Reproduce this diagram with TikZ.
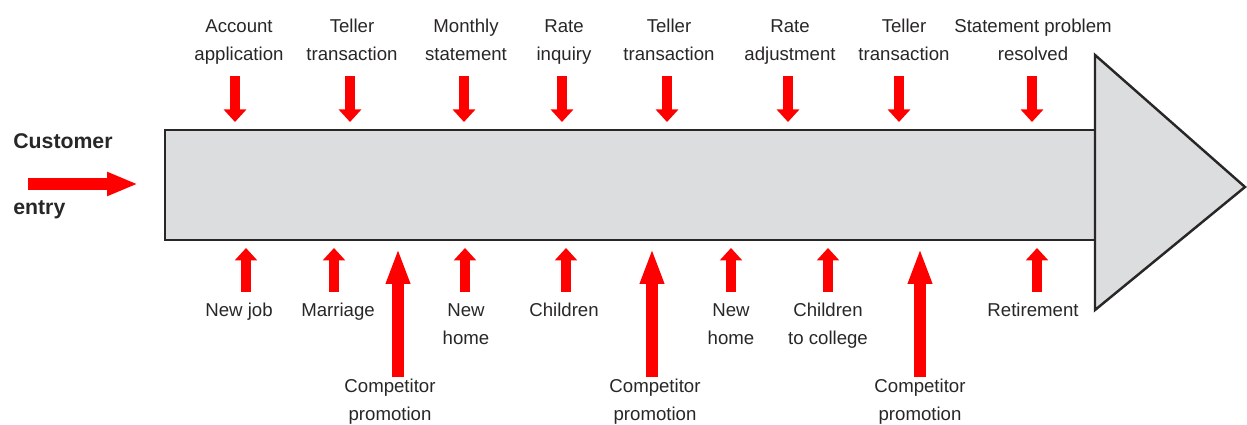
\documentclass[tikz,border=0pt]{standalone}
\usepackage{fontspec}
\setmainfont{Liberation Sans}
\usepackage{tikz}
\usetikzlibrary{arrows.meta}
\definecolor{boxgray}{RGB}{220,221,223}
\definecolor{txtgray}{RGB}{40,38,38}
\tikzstyle{evt} = [inner sep=0pt,anchor=north,align=center,text=txtgray,font=\fontsize{10.6}{15.9}\selectfont]
\tikzstyle{push} = [red,line width=0.2cm,-{Triangle[length=0.25cm,width=0.44cm]}]
\tikzstyle{bigpush} = [red,line width=0.23cm,-{Triangle[length=0.72cm,width=0.44cm]}]

\begin{document}
\begin{tikzpicture}[x=0.02cm,y=-0.02cm]
	\useasboundingbox (0,0) rectangle (1247,425);
	
	% Body of the big arrow:
	% rectangle plus triangle head, both filled grey
	\draw [boxgray!100,fill=boxgray] (165,130) rectangle (1095,240);
	\draw [line width=1.4pt,txtgray,fill=boxgray,line join=miter] (1095,130) -- (165,130) -- (165,240) -- (1095,240);
	\draw [line width=1.4pt,txtgray,fill=boxgray] (1095,55) -- (1245,187) -- (1095,310) -- cycle;
	
	% Entry:
	\node [anchor=base west,inner sep=0pt,text=txtgray,font=\fontsize{12.1}{14}\selectfont\bfseries] (cust) at (13,149) {Customer};
	\node [anchor=base west,inner sep=0pt,text=txtgray,font=\fontsize{12.1}{14}\selectfont\bfseries] (entry) at (13,215) {entry};
	\coordinate (in0) at (28,184);
	\coordinate (in1) at (138,184);
	\draw [red,line width=0.24cm,-{Triangle[length=0.62cm,width=0.44cm]}] (in0) -- (in1);
	
	% Bank events above the body:
	\foreach \ax/\lx/\txt [count=\i] in {235/239/{Account\\application},350/352/{Teller\\transaction},464/466/{Monthly\\statement},562/564/{Rate\\inquiry},667/669/{Teller\\transaction},788/790/{Rate\\adjustment},899/904/{Teller\\transaction},1032/1033/{Statement problem\\resolved}}
	{
		\node [evt] (top\i) at (\lx,19) {\txt};
		\coordinate (ta\i) at (\ax,76);
		\coordinate (tb\i) at (\ax,122);
		\draw [push] (ta\i) -- (tb\i);
	}
	
	% Life events below the body:
	\foreach \ax/\lx/\txt [count=\i] in {246/239/{New job},334/338/{Marriage},465/466/{New\\home},566/564/{Children},731/731/{New\\home},828/828/{Children\\to college},1037/1033/{Retirement}}
	{
		\node [evt] (bot\i) at (\lx,303) {\txt};
		\coordinate (ba\i) at (\ax,292);
		\coordinate (bb\i) at (\ax,248);
		\draw [push] (ba\i) -- (bb\i);
	}
	
	% Competitor promotions:
	\foreach \ax/\lx [count=\i] in {398/390,652/655,920/920}
	{
		\node [evt] (comp\i) at (\lx,379) {Competitor\\promotion};
		\coordinate (ca\i) at (\ax,377);
		\coordinate (cb\i) at (\ax,248);
		\draw [bigpush] (ca\i) -- (cb\i);
	}
	
\end{tikzpicture}
\end{document}
